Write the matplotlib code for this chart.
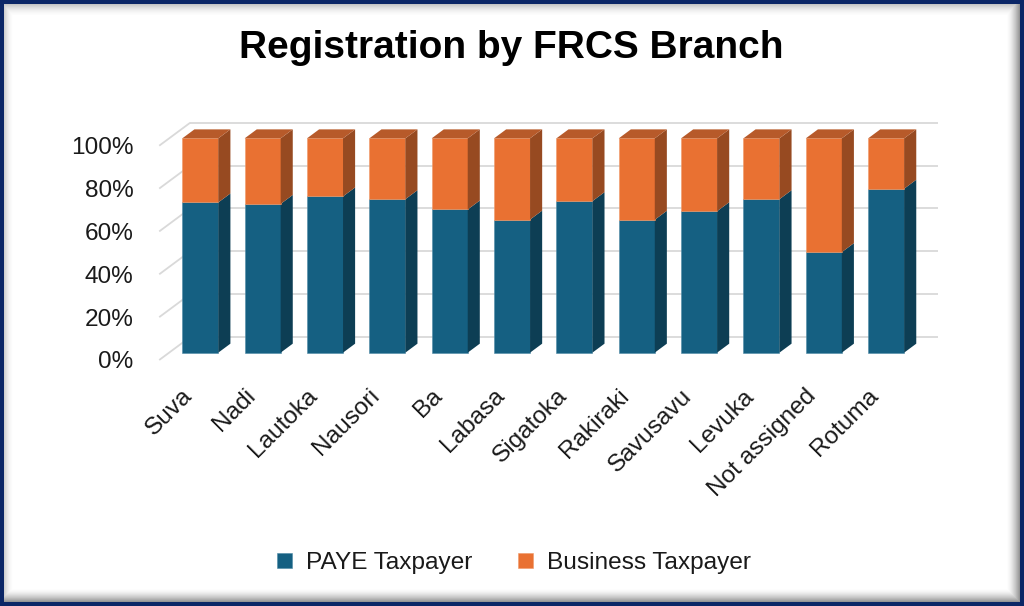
import matplotlib
matplotlib.use("Agg")
import matplotlib.pyplot as plt
from matplotlib.patches import Polygon, Patch
import numpy as np

# ---------------- data ----------------
categories = ["Suva", "Nadi", "Lautoka", "Nausori", "Ba", "Labasa", "Sigatoka",
              "Rakiraki", "Savusavu", "Levuka", "Not assigned", "Rotuma"]
paye = [70.1, 69.4, 72.9, 71.6, 66.8, 62.1, 70.7, 62.0, 66.0, 71.6, 46.9, 76.5]
business = [29.9, 30.6, 27.1, 28.4, 33.2, 37.9, 29.3, 38.0, 34.0, 28.4, 53.1, 23.5]
series_names = ["PAYE Taxpayer", "Business Taxpayer"]
yticks = [0, 20, 40, 60, 80, 100]
ytick_labels = ["0%", "20%", "40%", "60%", "80%", "100%"]
title = "Registration by FRCS Branch"

# ---------------- style ----------------
FONT = "Liberation Sans"
plt.rcParams["font.family"] = [FONT, "DejaVu Sans"]
W, H, DPI = 1024, 606, 100
front_col = ["#156082", "#e97132"]
side_col = ["#0d3e54", "#974a21"]
top_col = ["#114f6b", "#b75a2a"]
edge_col = ["#4f8aa6", "#f09a68"]
grid_col = "#d9d9d9"
text_col = "#1a1a1a"

fig = plt.figure(figsize=(W / DPI, H / DPI), dpi=DPI)
fig.patch.set_facecolor("white")

# pixel geometry of the plot area
px_x = 62.35          # pixels per category
px_y = 2.143          # pixels per percent (front plane)
x0_px = 190.4         # pixel x of category 0 at the front edge
y0_px = 246.0         # pixel y (from bottom) of 0% at the front edge
ax_l, ax_r, ax_t = 150.0, 960.0, 500.0
ax = fig.add_axes([ax_l / W, y0_px / H, (ax_r - ax_l) / W, (ax_t - y0_px) / H])
ax.set_xlim((ax_l - x0_px) / px_x, (ax_r - x0_px) / px_x)
ax.set_ylim(0, (ax_t - y0_px) / px_y)
ax.patch.set_alpha(0)
for s in ax.spines.values():
    s.set_visible(False)

# 3-D depth vector (data units) and bar depth fractions
DX, DY = 31 / px_x, 23 / px_y
d0, d1 = 0.32, 0.71
hw = 36 / px_x / 2
n = len(categories)
x_left, x_right = -0.5, n - 0.5


def proj(x, y, d):
    return (x + d * DX, y + d * DY)


# walls / gridlines
for v in yticks:
    a = proj(x_left, v, 1)
    b = proj(x_right, v, 1)
    ax.plot([a[0], b[0]], [a[1], b[1]], color=grid_col, lw=1.3, zorder=1,
            solid_capstyle="butt", clip_on=False)
    c = proj(x_left, v, 0)
    ax.plot([c[0], a[0]], [c[1], a[1]], color=grid_col, lw=1.3, zorder=1,
            solid_capstyle="butt", clip_on=False)

# bars
xs = np.arange(n)
totals = np.array(paye) + np.array(business)
shares = [np.array(paye) / totals * 100, np.array(business) / totals * 100]
bottom = np.zeros(n)
for k, sh in enumerate(shares):
    top = bottom + sh
    ax.bar(xs + d0 * DX, sh, bottom=bottom + d0 * DY, width=2 * hw,
           color=front_col[k], edgecolor=edge_col[k], linewidth=0.4, zorder=3,
           label=series_names[k])
    for i in range(n):
        xr = xs[i] + hw
        side = [proj(xr, bottom[i], d0), proj(xr, bottom[i], d1),
                proj(xr, top[i], d1), proj(xr, top[i], d0)]
        ax.add_patch(Polygon(side, closed=True, facecolor=side_col[k],
                             edgecolor="none", zorder=3))
        if k == len(shares) - 1:
            xl = xs[i] - hw
            tp = [proj(xl, top[i], d0), proj(xr, top[i], d0),
                  proj(xr, top[i], d1), proj(xl, top[i], d1)]
            ax.add_patch(Polygon(tp, closed=True, facecolor=top_col[k],
                                 edgecolor="none", zorder=3))
    bottom = top

# axes ticks
ax.set_yticks(yticks)
ax.set_yticklabels(ytick_labels, fontsize=17.6, color=text_col)
ax.tick_params(axis="y", length=0, pad=12.0)
ax.set_xticks(xs + 0.11)
ax.set_xticklabels(categories, fontsize=17.6, color=text_col, rotation=45,
                   ha="right")
ax.tick_params(axis="x", length=0, pad=18.0)

# title
fig.text(511.5 / W, 1 - 47.5 / H, title, fontsize=28, fontweight="bold",
         color="black", ha="center", va="center")

# legend
handles = [Patch(facecolor=front_col[0], edgecolor=edge_col[0], lw=0.4),
           Patch(facecolor=front_col[1], edgecolor=edge_col[1], lw=0.4)]
fig.legend(handles, series_names, loc="center", bbox_to_anchor=(514 / W, 43 / H),
           ncol=2, frameon=False, fontsize=17.6, handlelength=0.6,
           handleheight=0.6, handletextpad=0.56, columnspacing=1.9,
           labelcolor=text_col)

# border with inner shadow
yy, xx = np.mgrid[0:H, 0:W]
dl, dr, dt, db = xx, W - 1 - xx, yy, H - 1 - yy
bw = 4
img = np.zeros((H, W, 4))
sh_r = np.clip(1 - (dr - bw) / 13.0, 0, 1) ** 1.6 * 0.55
sh_b = np.clip(1 - (db - bw) / 13.0, 0, 1) ** 1.6 * 0.55
sh_t = np.clip(1 - (dt - bw) / 12.0, 0, 1) ** 1.8 * 0.30
sh_l = np.clip(1 - (dl - bw) / 9.0, 0, 1) ** 1.8 * 0.25
shade = np.maximum.reduce([sh_r, sh_b, sh_t, sh_l])
img[..., 0:3] = 0.25
img[..., 3] = shade
navy = np.minimum.reduce([dl, dr, dt, db]) < bw
img[navy, 0:3] = np.array([11, 38, 102]) / 255.0
img[navy, 3] = 1.0
fig.figimage(img, xo=0, yo=0, origin="upper", zorder=0)

fig.savefig("out.png", dpi=DPI, facecolor="white")
